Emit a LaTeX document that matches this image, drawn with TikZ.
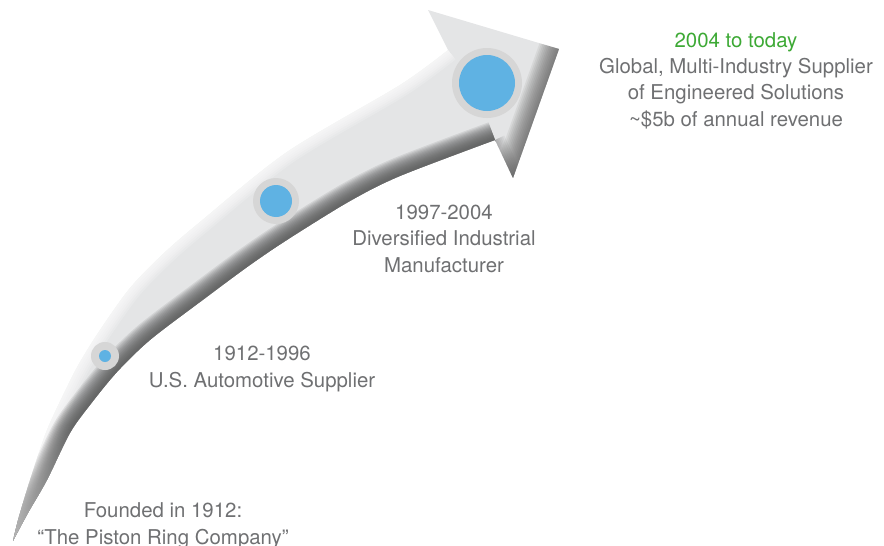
\documentclass[tikz,border=0pt]{standalone}
\usepackage{fontspec}
\setmainfont{TeX Gyre Heros}
\usetikzlibrary{fadings}
\definecolor{txtgray}{HTML}{6F7072}
\definecolor{grn}{HTML}{3DA935}
\definecolor{blu}{HTML}{5FB2E3}
\definecolor{ringc}{HTML}{D6D6D6}
\definecolor{shaftc}{HTML}{E4E5E6}
\definecolor{shadec}{HTML}{555555}
\begin{document}
\begin{tikzpicture}[x=1pt,y=-1pt,
  lbl/.style={inner sep=0pt, anchor=base, align=center, text=txtgray,
    font=\fontsize{20.4}{26.3}\selectfont},
  ringdot/.style={circle, fill=ringc, inner sep=0pt},
  bluedot/.style={circle, fill=blu, inner sep=0pt}]
\useasboundingbox (0,0) rectangle (884,546);
\path[save path=\arrowp] (13,541) -- plot[smooth] coordinates {(13,541) (18,520) (30,480) (47,430) (68,385) (80,362) (100,330) (130,288) (163,254) (200,222) (287,152) (400,85) (448,50)} -- (428,10) -- (559,49) -- (513,178) -- (495,140) -- plot[smooth] coordinates {(495,140) (400,176) (350,201) (290,238) (250,265) (200,302) (150,340) (117,372) (90,405) (70,433) (47,480) (28,513) (13,541)} -- cycle;
\path[save path=\upp] plot[smooth] coordinates {(13,541) (18,520) (30,480) (47,430) (68,385) (80,362) (100,330) (130,288) (163,254) (200,222) (287,152) (400,85) (448,50)};
\path[save path=\lowp] plot[smooth] coordinates {(495,140) (400,176) (350,201) (290,238) (250,265) (200,302) (150,340) (117,372) (90,405) (70,433) (47,480) (28,513) (13,541)};
\fill[shaftc, use path=\arrowp];
\begin{scope}
  \clip[use path=\arrowp];
  \foreach \i in {1,...,6} {
    \pgfmathsetmacro{\w}{2*(14-2*\i)}
    \draw[white, opacity=0.18, line width=\w pt, use path=\upp];
  }
  \foreach \i in {1,...,15} {
    \pgfmathsetmacro{\w}{2*(20-1.2*\i)}
    \draw[shadec, opacity=0.12, line width=\w pt, use path=\lowp];
  }
  \foreach \i in {1,...,12} {
    \pgfmathsetmacro{\w}{2*(22-1.7*\i)}
    \draw[shadec, opacity=0.09, line width=\w pt] (559,49) -- (513,178);
  }
  \foreach \i in {1,...,6} {
    \pgfmathsetmacro{\w}{2*(12-1.8*\i)}
    \draw[shadec, opacity=0.07, line width=\w pt] (513,178) -- (495,140);
  }
  \fill[white, opacity=0.55, path fading=north] (0,425) rectangle (140,546);
\end{scope}
% milestone dots
\node[ringdot, minimum size=28pt] (r1) at (105,356) {};
\node[bluedot, minimum size=12pt] (b1) at (r1) {};
\node[ringdot, minimum size=46pt] (r2) at (276,201) {};
\node[bluedot, minimum size=32pt] (b2) at (r2) {};
\node[ringdot, minimum size=70pt] (r3) at (487,83) {};
\node[bluedot, minimum size=56pt] (b3) at (r3) {};
% labels (anchored at the baseline of their last line)
\node[lbl] (t4) at (736,126) {{\color{grn}2004 to today}\\Global, Multi-Industry Supplier\\of Engineered Solutions\\\textasciitilde\$5b of annual revenue};
\node[lbl] (t3) at (444,272) {1997-2004\\Diversified Industrial\\Manufacturer};
\node[lbl] (t2) at (262,387) {1912-1996\\U.S. Automotive Supplier};
\node[lbl] (t1) at (163,544) {Founded in 1912:\\“The Piston Ring Company”};
\end{tikzpicture}
\end{document}
